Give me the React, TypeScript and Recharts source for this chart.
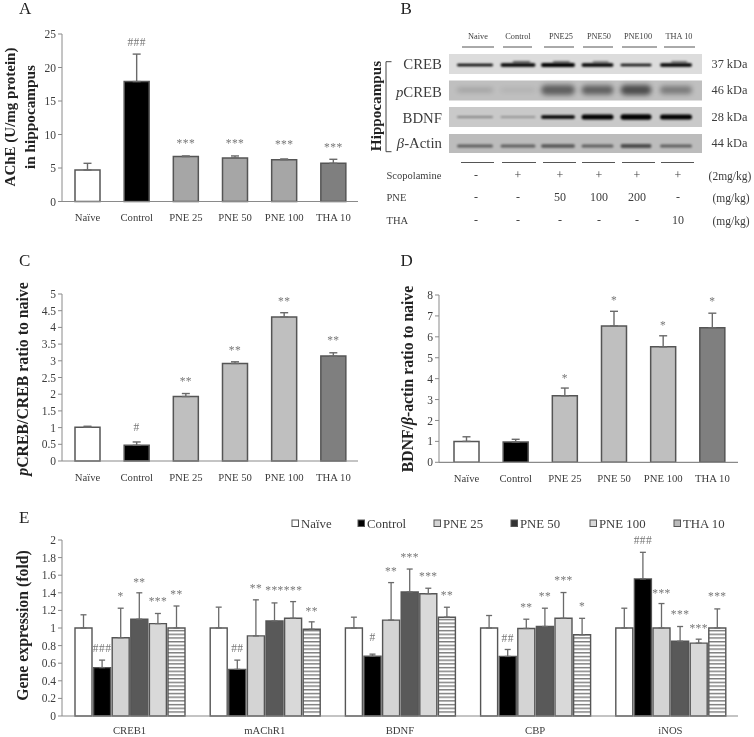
import React from 'react';
import { BarChart, Bar, XAxis, YAxis, ErrorBar, Cell, LabelList } from 'recharts';

const groups = ['Naïve', 'Control', 'PNE 25', 'PNE 50', 'PNE 100', 'THA 10'];

// panel A
const acheValues = [4.7, 17.9, 6.7, 6.5, 6.25, 5.7];
const acheErrors = [1.0, 4.1, 0.1, 0.3, 0.1, 0.6];
const acheSig = ['', '###', '***', '***', '***', '***'];
const acheSigAt = [0, 23.85, 8.9, 8.9, 8.7, 8.3];
const acheTicks = [0, 5, 10, 15, 20, 25];

// panel C
const pcrebValues = [1.01, 0.47, 1.93, 2.92, 4.31, 3.14];
const pcrebErrors = [0.03, 0.1, 0.09, 0.05, 0.13, 0.1];
const pcrebSig = ['', '#', '**', '**', '**', '**'];
const pcrebSigAt = [0, 1.0, 2.42, 3.37, 4.82, 3.65];
const pcrebTicks = [0, 0.5, 1, 1.5, 2, 2.5, 3, 3.5, 4, 4.5, 5];

// panel D
const bdnfValues = [1.0, 0.97, 3.18, 6.52, 5.52, 6.43];
const bdnfErrors = [0.22, 0.13, 0.37, 0.7, 0.53, 0.7];
const bdnfSig = ['', '', '*', '*', '*', '*'];
const bdnfSigAt = [0, 0, 4.11, 7.8, 6.63, 7.75];
const bdnfTicks = [0, 1, 2, 3, 4, 5, 6, 7, 8];

// panel E, one list per treatment, in gene order
const genes = ['CREB1', 'mAChR1', 'BDNF', 'CBP', 'iNOS'];
const geneTicks = [0, 0.2, 0.4, 0.6, 0.8, 1, 1.2, 1.4, 1.6, 1.8, 2];
const naiveExpr = [1.0, 1.0, 1.0, 1.0, 1.0];
const controlExpr = [0.55, 0.53, 0.68, 0.677, 1.558];
const pne25Expr = [0.89, 0.91, 1.09, 0.995, 1.0];
const pne50Expr = [1.1, 1.08, 1.41, 1.017, 0.85];
const pne100Expr = [1.05, 1.11, 1.39, 1.11, 0.828];
const thaExpr = [1.0, 0.985, 1.123, 0.923, 1.0];
const naiveErr = [0.15, 0.237, 0.123, 0.142, 0.225];
const controlErr = [0.085, 0.105, 0.023, 0.079, 0.302];
const pne25Err = [0.335, 0.41, 0.426, 0.105, 0.278];
const pne50Err = [0.3, 0.205, 0.26, 0.208, 0.167];
const pne100Err = [0.115, 0.19, 0.062, 0.293, 0.045];
const thaErr = [0.25, 0.085, 0.113, 0.187, 0.217];
const controlSig = ['###', '##', '#', '##', '###'];
const pne25Sig = ['*', '**', '**', '**', '***'];
const pne50Sig = ['**', '***', '***', '**', '***'];
const pne100Sig = ['***', '***', '***', '***', '***'];
const thaSig = ['**', '**', '**', '*', '***'];
const controlSigAt = [0.77, 0.767, 0.892, 0.889, 2.0];
const pne25SigAt = [1.376, 1.467, 1.656, 1.25, 1.407];
const pne50SigAt = [1.54, 1.45, 1.82, 1.376, 1.176];
const pne100SigAt = [1.315, 1.45, 1.6, 1.56, 1.013];
const thaSigAt = [1.395, 1.21, 1.384, 1.26, 1.376];

// blot panel
const blotLanes = ['Naive', 'Control', 'PNE25', 'PNE50', 'PNE100', 'THA 10'];
const blotProteins = ['CREB', 'BDNF'];
const blotSizes = ['37 kDa', '46 kDa', '28 kDa', '44 kDa'];
const scopolamineRow = ['-', '+', '+', '+', '+', '+'];
const pneRow = ['-', '-', '50', '100', '200', '-'];
const thaRow = ['-', '-', '-', '-', '-', '10'];
const crebBand = [1, 1, 1, 1, 0.95, 1];
const crebUpper = [0, 0.55, 0.5, 0.4, 0, 0.45];
const pcrebBand = [0.18, 0.1, 0.5, 0.5, 0.6, 0.36];
const bdnfBand = [0.45, 0.35, 1, 1, 1, 1];
const actinBand = [0.5, 0.5, 0.55, 0.5, 0.6, 0.5];

const SERIF = '"Liberation Serif", serif';
const INK = '#3c3c3c';
const AXIS = '#8a8a8a';
const EDGE = '#555';

const sigLabel = (sig: string[], sigAt: number[], values: number[]) => (p: any) => {
  const i = p.index;
  if (!sig[i]) return null;
  const box = p.viewBox ?? p;
  // bar's own pixel height gives the scale
  const bottom = box.y + box.height;
  const y = bottom - sigAt[i] * (box.height / values[i]);
  const isHash = sig[i][0] === '#';
  return (
    <text
      x={box.x + box.width / 2}
      y={y + (isHash ? 3.8 : 5.2)}
      textAnchor="middle"
      fontFamily={SERIF}
      fontSize={11.5}
      letterSpacing={0.4}
      fill="#777"
    >
      {sig[i]}
    </text>
  );
};

const axisTick = { fontFamily: SERIF, fontSize: 11.5, fill: INK };
const catTick = { fontFamily: SERIF, fontSize: 10.7, fill: INK };

const SinglePanel = ({ left, top, width, height, axisWidth, pad, values, errors, sig, sigAt, ticks, fills }: any) => {
  const rows = groups.map((g, i) => ({ name: g, value: values[i], err: [0, errors[i]] }));
  return (
    <div style={{ position: 'absolute', left, top }}>
      <BarChart width={width} height={height} data={rows} margin={{ top: 10, right: 0, bottom: 0, left: 0 }} barSize={25}>
        <XAxis dataKey="name" interval={0} padding={pad} axisLine={{ stroke: AXIS, strokeWidth: 1.2 }} tickLine={false} tick={catTick} tickMargin={6} height={30} />
        <YAxis width={axisWidth} domain={[0, ticks[ticks.length - 1]]} ticks={ticks} interval={0} axisLine={{ stroke: AXIS }} tickLine={{ stroke: AXIS }} tickSize={4} tick={axisTick} />
        <Bar dataKey="value" stroke={EDGE} strokeWidth={1.5} isAnimationActive={false}>
          {rows.map((r, i) => (
            <Cell key={r.name} fill={fills[i]} />
          ))}
          <ErrorBar dataKey="err" direction="y" width={4} stroke="#6a6a6a" strokeWidth={1.4} isAnimationActive={false} />
          <LabelList dataKey="value" content={sigLabel(sig, sigAt, values)} />
        </Bar>
      </BarChart>
    </div>
  );
};

const GeneSeries = [
  { key: 'Naïve', values: naiveExpr, errs: naiveErr, fill: '#fff', sig: null, sigAt: null },
  { key: 'Control', values: controlExpr, errs: controlErr, fill: '#000', sig: controlSig, sigAt: controlSigAt },
  { key: 'PNE 25', values: pne25Expr, errs: pne25Err, fill: '#d4d4d4', sig: pne25Sig, sigAt: pne25SigAt },
  { key: 'PNE 50', values: pne50Expr, errs: pne50Err, fill: '#595959', sig: pne50Sig, sigAt: pne50SigAt },
  { key: 'PNE 100', values: pne100Expr, errs: pne100Err, fill: '#d9d9d9', sig: pne100Sig, sigAt: pne100SigAt },
  { key: 'THA 10', values: thaExpr, errs: thaErr, fill: 'url(#thaStripes)', sig: thaSig, sigAt: thaSigAt },
];

const GenePanel = () => {
  const rows = genes.map((g, i) => {
    const row: any = { name: g };
    GeneSeries.forEach((s) => {
      row[s.key] = s.values[i];
      row[s.key + '_e'] = [0, s.errs[i]];
    });
    return row;
  });
  return (
    <div style={{ position: 'absolute', left: 0, top: 530 }}>
      <BarChart width={738} height={207} data={rows} margin={{ top: 10, right: 0, bottom: 0, left: 0 }} barSize={17} barGap={1.6} barCategoryGap={11.5}>
        <defs>
          <pattern id="thaStripes" width="4" height="3.7" patternUnits="userSpaceOnUse">
            <rect width="4" height="3.7" fill="#fff" />
            <rect width="4" height="1.4" fill="#7a7a7a" />
          </pattern>
        </defs>
        <XAxis dataKey="name" interval={0} axisLine={{ stroke: AXIS, strokeWidth: 1.2 }} tickLine={false} tick={catTick} tickMargin={4} height={21} />
        <YAxis width={62} domain={[0, 2]} ticks={geneTicks} interval={0} axisLine={{ stroke: AXIS }} tickLine={{ stroke: AXIS }} tickSize={4} tick={axisTick} />
        {GeneSeries.map((s) => (
          <Bar key={s.key} dataKey={s.key} fill={s.fill} stroke={EDGE} strokeWidth={1.4} isAnimationActive={false}>
            <ErrorBar dataKey={s.key + '_e'} direction="y" width={3} stroke="#6a6a6a" strokeWidth={1.3} isAnimationActive={false} />
            {s.sig && <LabelList dataKey={s.key} content={sigLabel(s.sig, s.sigAt as number[], s.values)} />}
          </Bar>
        ))}
      </BarChart>
    </div>
  );
};

const laneX = [475, 518, 558, 597.5, 636, 676];
const laneHalf = [18, 17.5, 17, 16, 15.5, 16];
const lineTop = [[462, 494], [503, 532], [544, 574], [583, 613], [622, 657], [664, 695]];
const lineBottom = [[461, 494], [502, 536], [543, 576], [582, 615], [622, 655], [661, 694]];
const headerX = [478, 518, 561, 599, 638, 679];
const treatX = [476, 518, 560, 599, 637, 678];

const blotRows = [
  { y: 54, h: 20, bg: '#dcdcdc', cy: 65, blur: 0.9, bands: crebBand, thick: [2.5, 3.5, 4, 3.5, 2.5, 3.5] },
  { y: 80.5, h: 20, bg: '#bfbfbf', cy: 90, blur: 2.4, bands: pcrebBand, thick: [4, 3, 10, 9, 10, 8] },
  { y: 107, h: 20, bg: '#c9c9c9', cy: 117, blur: 0.9, bands: bdnfBand, thick: [1.5, 1.5, 3.5, 5, 5.5, 5] },
  { y: 134, h: 19, bg: '#bcbcbc', cy: 146, blur: 1.1, bands: actinBand, thick: [3, 3, 3.5, 3, 4, 3] },
];

const Blot = () => (
  <g>
    <defs>
      {blotRows.map((r, i) => (
        <filter key={i} id={`blur${i}`} x="-30%" y="-400%" width="160%" height="900%">
          <feGaussianBlur stdDeviation={r.blur} />
        </filter>
      ))}
    </defs>
    {blotLanes.map((l, i) => (
      <g key={l}>
        <text x={headerX[i]} y={39} textAnchor="middle" fontSize={8.3} fill={INK}>{l}</text>
        <line x1={lineTop[i][0]} x2={lineTop[i][1]} y1={47} y2={47} stroke="#555" strokeWidth={1} />
        <line x1={lineBottom[i][0]} x2={lineBottom[i][1]} y1={162.5} y2={162.5} stroke="#555" strokeWidth={1} />
      </g>
    ))}
    {blotRows.map((r, ri) => (
      <g key={ri}>
        <rect x={449} y={r.y} width={253} height={r.h} fill={r.bg} />
        {r.bands.map((b, i) => (
          <rect key={i} x={laneX[i] - laneHalf[i]} y={r.cy - r.thick[i] / 2} width={laneHalf[i] * 2} height={r.thick[i]} rx={r.thick[i] / 2} fill="#000" opacity={b} filter={`url(#blur${ri})`} />
        ))}
      </g>
    ))}
    {crebUpper.map((b, i) => (
      <rect key={i} x={laneX[i] - laneHalf[i] * 0.3} y={61} width={laneHalf[i]} height={2.5} rx={1.2} fill="#000" opacity={b} filter="url(#blur0)" />
    ))}
    <text x={442} y={69} textAnchor="end" fontSize={14.8} fill={INK}>{blotProteins[0]}</text>
    <text x={442} y={96.5} textAnchor="end" fontSize={14.8} fill={INK}><tspan fontStyle="italic">p</tspan>{blotProteins[0]}</text>
    <text x={442} y={122.5} textAnchor="end" fontSize={14.8} fill={INK}>{blotProteins[1]}</text>
    <text x={442} y={148} textAnchor="end" fontSize={14.8} fill={INK}><tspan fontStyle="italic">β</tspan>-Actin</text>
    {blotSizes.map((s, i) => (
      <text key={s} x={711.5} y={[68, 94, 121, 146.5][i]} fontSize={12.3} fill={INK}>{s}</text>
    ))}
    <text transform="translate(381,106) rotate(-90)" textAnchor="middle" fontSize={15.2} fontWeight="bold" fill="#222">Hippocampus</text>
    <path d="M391.5 61.7 H386 V151.7 H391.5" fill="none" stroke="#444" strokeWidth={1} />
    <text x={386.5} y={178.5} fontSize={10.5} fill={INK}>Scopolamine</text>
    <text x={386.5} y={201} fontSize={10.5} fill={INK}>PNE</text>
    <text x={386.5} y={224} fontSize={10.5} fill={INK}>THA</text>
    {[scopolamineRow, pneRow, thaRow].map((row, ri) =>
      row.map((v, i) => (
        <text key={`${ri}-${i}`} x={treatX[i]} y={[178.5, 201, 224][ri]} textAnchor="middle" fontSize={12} fill={INK}>{v}</text>
      ))
    )}
    <text x={730} y={180} textAnchor="middle" fontSize={11.5} fill={INK}>(2mg/kg)</text>
    <text x={731} y={202} textAnchor="middle" fontSize={11.5} fill={INK}>(mg/kg)</text>
    <text x={731} y={225} textAnchor="middle" fontSize={11.5} fill={INK}>(mg/kg)</text>
  </g>
);

const legendX = [292, 358, 434, 511, 590, 674];
const legendFill = ['#fff', '#000', '#d4d4d4', '#333', '#d9d9d9', '#bbb'];

const Overlay = () => (
  <svg width={754} height={737} style={{ position: 'absolute', left: 0, top: 0, pointerEvents: 'none' }} fontFamily={SERIF}>
    <text x={19} y={14} fontSize={17} fill="#222">A</text>
    <text x={400.5} y={14} fontSize={17} fill="#222">B</text>
    <text x={19} y={266} fontSize={17} fill="#222">C</text>
    <text x={400.5} y={266} fontSize={17} fill="#222">D</text>
    <text x={19} y={523} fontSize={17} fill="#222">E</text>

    <text transform="translate(15,117) rotate(-90)" textAnchor="middle" fontSize={15} fontWeight="bold" fill="#222">AChE (U/mg protein)</text>
    <text transform="translate(35,117) rotate(-90)" textAnchor="middle" fontSize={15.3} fontWeight="bold" fill="#222">in hippocampus</text>
    <text transform="translate(27.5,379) rotate(-90)" textAnchor="middle" fontSize={15.8} fontWeight="bold" fill="#222"><tspan fontStyle="italic">p</tspan>CREB/CREB ratio to naive</text>
    <text transform="translate(413,379) rotate(-90)" textAnchor="middle" fontSize={15.7} fontWeight="bold" fill="#222">BDNF/<tspan fontStyle="italic">β</tspan>-actin ratio to naive</text>
    <text transform="translate(28,625.5) rotate(-90)" textAnchor="middle" fontSize={15.8} fontWeight="bold" fill="#222">Gene expression  (fold)</text>

    <Blot />

    {GeneSeries.map((s, i) => (
      <g key={s.key}>
        <rect x={legendX[i]} y={520} width={6.5} height={6.5} fill={legendFill[i]} stroke={EDGE} strokeWidth={1} />
        <text x={legendX[i] + 9} y={528} fontSize={12.8} fill={INK}>{s.key}</text>
      </g>
    ))}
  </svg>
);

export default function App() {
  return (
    <div style={{ position: 'relative', width: 754, height: 737, background: '#fff', overflow: 'hidden', filter: 'blur(0.4px)' }}>
      <style>{'body{margin:0}'}</style>
      <SinglePanel left={0} top={24} width={358} height={207.5} axisWidth={62} pad={{ left: 1, right: 0 }} values={acheValues} errors={acheErrors} sig={acheSig} sigAt={acheSigAt} ticks={acheTicks} fills={['#fff', '#000', '#a6a6a6', '#a6a6a6', '#a6a6a6', '#7f7f7f']} />
      <SinglePanel left={0} top={284} width={358} height={207} axisWidth={62} pad={{ left: 1, right: 0 }} values={pcrebValues} errors={pcrebErrors} sig={pcrebSig} sigAt={pcrebSigAt} ticks={pcrebTicks} fills={['#fff', '#000', '#bfbfbf', '#bfbfbf', '#bfbfbf', '#7f7f7f']} />
      <SinglePanel left={377} top={284.7} width={361} height={207.3} axisWidth={62} pad={{ left: 3, right: 1 }} values={bdnfValues} errors={bdnfErrors} sig={bdnfSig} sigAt={bdnfSigAt} ticks={bdnfTicks} fills={['#fff', '#000', '#bfbfbf', '#bfbfbf', '#bfbfbf', '#7f7f7f']} />
      <GenePanel />
      <Overlay />
    </div>
  );
}
